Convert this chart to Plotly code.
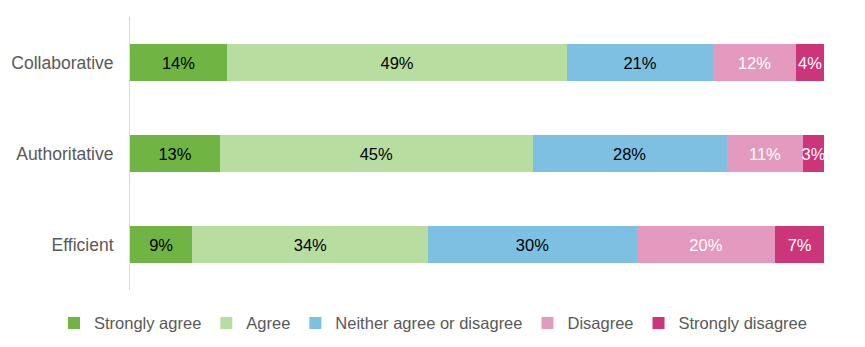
import plotly.graph_objects as go

categories = ["Collaborative", "Authoritative", "Efficient"]
series_names = ["Strongly agree", "Agree", "Neither agree or disagree", "Disagree", "Strongly disagree"]
strongly_agree = [14, 13, 9]
agree = [49, 45, 34]
neither = [21, 28, 30]
disagree = [12, 11, 20]
strongly_disagree = [4, 3, 7]

values = [strongly_agree, agree, neither, disagree, strongly_disagree]
colors = ["#70B543", "#B8DDA1", "#7DC0E2", "#E49ABE", "#CC3578"]
text_colors = ["#000000", "#000000", "#000000", "#FFFFFF", "#FFFFFF"]

FONT = "Liberation Sans, Arial, sans-serif"

fig = go.Figure()
for name, vals, col, tcol in zip(series_names, values, colors, text_colors):
    fig.add_trace(go.Bar(
        y=categories, x=vals, name=name, orientation="h",
        marker=dict(color=col, line=dict(width=0)),
        text=[f"{v}%" for v in vals], textposition="inside",
        insidetextanchor="middle", textangle=0, constraintext="none",
        textfont=dict(color=tcol, size=16.5, family=FONT),
    ))

fig.update_layout(
    barmode="stack", bargap=0.59,
    width=865, height=347,
    margin=dict(l=130, r=41, t=17, b=57, autoexpand=False),
    paper_bgcolor="white", plot_bgcolor="white",
    font=dict(family=FONT, size=17.5, color="#595959"),
    xaxis=dict(range=[0, 100], visible=False, fixedrange=True),
    yaxis=dict(autorange="reversed", showline=True, linecolor="#D9D9D9", linewidth=1,
               ticks="", ticklabelstandoff=12, showgrid=False,
               tickfont=dict(size=17.5, color="#595959")),
    legend=dict(orientation="h", x=-0.1095, xanchor="left", y=-0.058, yanchor="top",
                font=dict(size=16.5, color="#595959"), traceorder="normal",
                itemwidth=30, bgcolor="rgba(0,0,0,0)"),
    showlegend=True,
)

fig.write_html("out.html")
